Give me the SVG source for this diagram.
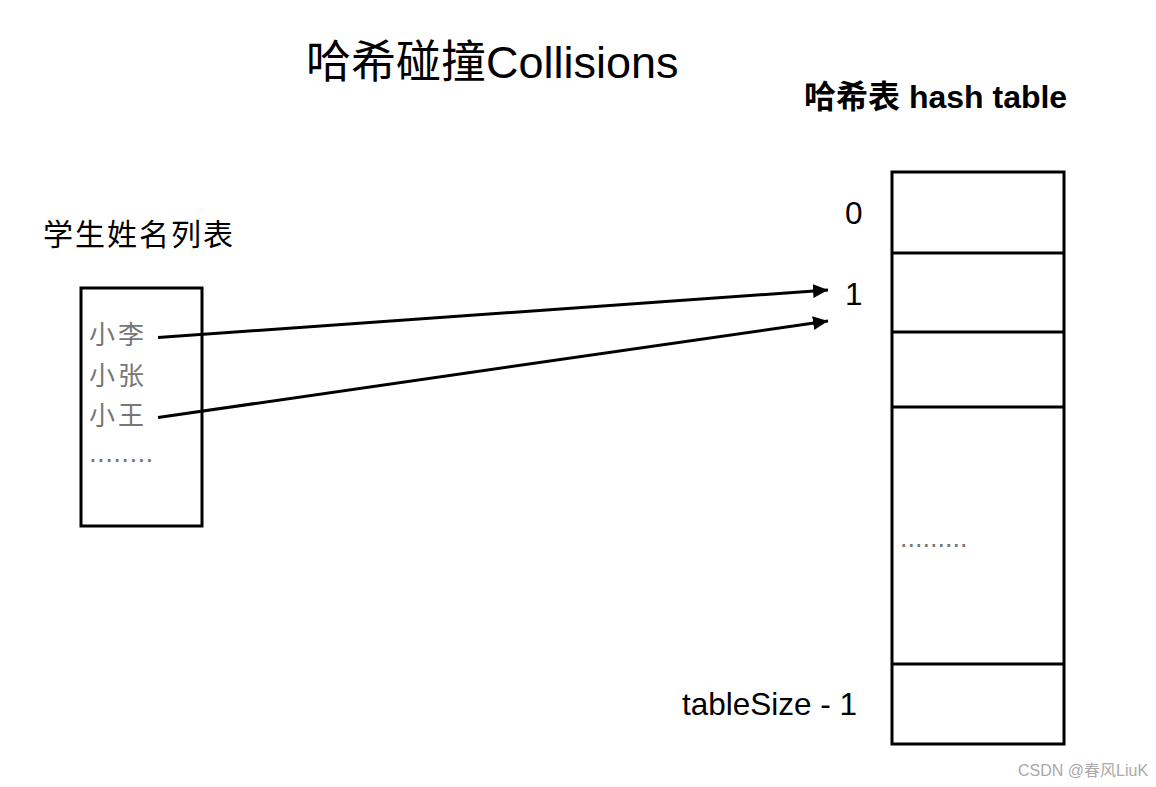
<svg xmlns="http://www.w3.org/2000/svg" width="1156" height="787" viewBox="0 0 1156 787">
  <style>
    .t { font-family: "Liberation Sans", "Noto Sans CJK SC", sans-serif; fill: #000; }
    .box { fill: #fff; stroke: #000; stroke-width: 3; }
    .sep { stroke: #000; stroke-width: 3; fill: none; }
    .item { font-family: "Liberation Sans", "Noto Sans CJK SC", sans-serif; fill: #777; font-size: 26px; letter-spacing: 3px; }
    .dots { font-family: "Liberation Sans", sans-serif; fill: #777; font-size: 28px; letter-spacing: 0.3px; }
    .conn { stroke: #000; stroke-width: 3; fill: none; }
  </style>
  <defs>
    <marker id="arrow" markerUnits="userSpaceOnUse" markerWidth="18" markerHeight="16" refX="15" refY="7" orient="auto">
      <path d="M0,0 L15,7 L0,14 Z" fill="#000"/>
    </marker>
  </defs>
  <rect width="1156" height="787" fill="#fff"/>

  <g id="title">
    <text class="t" x="306" y="78" font-size="45">哈希碰撞Collisions</text>
  </g>

  <g id="hash-table-title">
    <text class="t" x="804" y="108" font-size="32" font-weight="bold">哈希表 hash table</text>
  </g>

  <g id="student-list">
    <text class="t" x="43" y="245" font-size="30" style="letter-spacing:2px">学生姓名列表</text>
    <rect class="box" x="81" y="288" width="121" height="238"/>
    <text class="item" x="89" y="344">小李</text>
    <text class="item" x="89" y="385">小张</text>
    <text class="item" x="89" y="425">小王</text>
    <text class="dots" x="89" y="462">........</text>
  </g>

  <g id="hash-table">
    <rect class="box" x="892" y="172" width="172" height="572"/>
    <line class="sep" x1="892" y1="253" x2="1064" y2="253"/>
    <line class="sep" x1="892" y1="332" x2="1064" y2="332"/>
    <line class="sep" x1="892" y1="407" x2="1064" y2="407"/>
    <line class="sep" x1="892" y1="664" x2="1064" y2="664"/>
    <text class="t" x="845" y="224" font-size="31.5">0</text>
    <text class="t" x="845" y="305" font-size="31.5">1</text>
    <text class="t" x="682" y="715" font-size="31.5">tableSize - 1</text>
    <text class="dots" x="900" y="547" font-size="27" style="font-size:27px;letter-spacing:0">.........</text>
  </g>

  <g id="connectors">
    <line class="conn" x1="158" y1="337.5" x2="828" y2="290" marker-end="url(#arrow)"/>
    <line class="conn" x1="158" y1="417.5" x2="828" y2="321" marker-end="url(#arrow)"/>
  </g>

  <g id="watermark">
    <text x="1018" y="776" font-family="Liberation Sans, Noto Sans CJK SC, sans-serif" font-size="16" fill="#aaa">CSDN @春风LiuK</text>
  </g>
</svg>
